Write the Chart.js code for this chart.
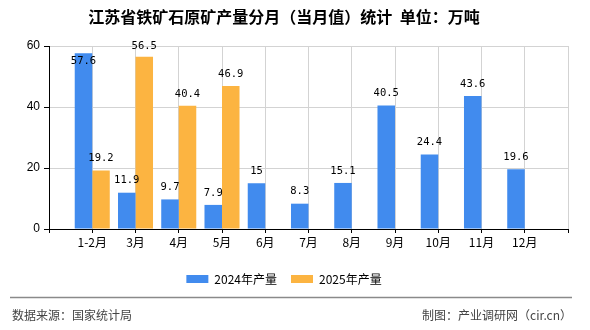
<!DOCTYPE html>
<html>
<head>
<meta charset="utf-8">
<script src="https://cdn.jsdelivr.net/npm/chart.js@4/dist/chart.umd.min.js"></script>
<style>
  html, body { margin: 0; padding: 0; background: #fff; }
  #wrap { position: relative; width: 590px; height: 330px; }
  canvas { display: block; }
</style>
</head>
<body>
<div id="wrap"><canvas id="c" width="590" height="330"></canvas></div>
<script>
const categories = ['1-2月', '3月', '4月', '5月', '6月', '7月', '8月', '9月', '10月', '11月', '12月'];
const series2024 = [57.6, 11.9, 9.7, 7.9, 15, 8.3, 15.1, 40.5, 24.4, 43.6, 19.6];
const series2025 = [19.2, 56.5, 40.4, 46.9, null, null, null, null, null, null, null];
const seriesNames = ['2024年产量', '2025年产量'];
const yTicks = [0, 20, 40, 60];
const titleText = '江苏省铁矿石原矿产量分月（当月值）统计  单位：万吨';
const sourceText = '数据来源：国家统计局';
const makerText = '制图：产业调研网（cir.cn）';

// axis has one empty slot before the first and after the last category
const labels = [''].concat(categories, ['']);
const pad = arr => [null].concat(arr, [null]);

const CJK = '"Noto Sans CJK SC", "Noto Sans", sans-serif';

const valueLabels = {
  id: 'valueLabels',
  afterDatasetsDraw(chart) {
    const ctx = chart.ctx;
    const area = chart.chartArea;
    ctx.save();
    ctx.font = '10.5px "DejaVu Sans Mono", monospace';
    ctx.fillStyle = '#000';
    ctx.textAlign = 'center';
    ctx.textBaseline = 'middle';
    chart.data.datasets.forEach((ds, di) => {
      const meta = chart.getDatasetMeta(di);
      meta.data.forEach((bar, i) => {
        const v = ds.data[i];
        if (v === null || v === undefined) return;
        let y = bar.y - 12;
        if (y < area.top - 3) y = bar.y + 8;
        else y = Math.max(y, area.top);
        ctx.fillText(String(v), bar.x, y);
      });
    });
    ctx.restore();
  }
};

const footer = {
  id: 'footer',
  afterDraw(chart) {
    const ctx = chart.ctx;
    ctx.save();
    ctx.strokeStyle = '#8a8a8a';
    ctx.lineWidth = 1.5;
    ctx.beginPath();
    ctx.moveTo(10, 297.5);
    ctx.lineTo(572, 297.5);
    ctx.stroke();
    ctx.font = '12px ' + CJK;
    ctx.fillStyle = '#444';
    ctx.textBaseline = 'middle';
    ctx.textAlign = 'left';
    ctx.fillText(sourceText, 12, 315);
    ctx.textAlign = 'right';
    ctx.fillText(makerText, 572, 315);
    ctx.restore();
  }
};

new Chart(document.getElementById('c'), {
  type: 'bar',
  data: {
    labels: labels,
    datasets: [
      { label: seriesNames[0], data: pad(series2024), backgroundColor: '#418bee', borderWidth: 0 },
      { label: seriesNames[1], data: pad(series2025), backgroundColor: '#fcb441', borderWidth: 0 }
    ]
  },
  options: {
    responsive: false,
    animation: false,
    devicePixelRatio: 1,
    categoryPercentage: 0.81,
    barPercentage: 1.0,
    layout: { padding: { left: 0, right: 22, top: 0, bottom: 35 } },
    plugins: {
      title: {
        display: true,
        text: titleText,
        color: '#000',
        font: { family: CJK, size: 16, weight: 'bold' },
        padding: { top: 7, bottom: 19.8 }
      },
      legend: {
        display: true,
        position: 'bottom',
        labels: {
          boxWidth: 22,
          boxHeight: 8,
          padding: 14,
          color: '#000',
          font: { family: CJK, size: 12 }
        }
      },
      tooltip: { enabled: false }
    },
    scales: {
      x: {
        type: 'category',
        offset: false,
        afterFit: s => { s.height = 30; },
        grid: { offset: false, color: '#d3d3d3', tickColor: '#000', tickLength: 4, drawOnChartArea: true },
        border: { color: '#000', width: 1 },
        ticks: { color: '#000', font: { family: CJK, size: 12 }, padding: 2, autoSkip: false, maxRotation: 0 }
      },
      y: {
        min: 0,
        max: 60,
        afterFit: s => { s.width = 49; },
        afterBuildTicks: s => { s.ticks = yTicks.map(v => ({ value: v })); },
        grid: { color: '#d3d3d3', tickColor: '#000', tickLength: 5 },
        border: { color: '#000', width: 1 },
        ticks: { color: '#000', font: { family: '"Liberation Sans", sans-serif', size: 12 }, padding: 4 }
      }
    }
  },
  plugins: [valueLabels, footer]
});
</script>
</body>
</html>
